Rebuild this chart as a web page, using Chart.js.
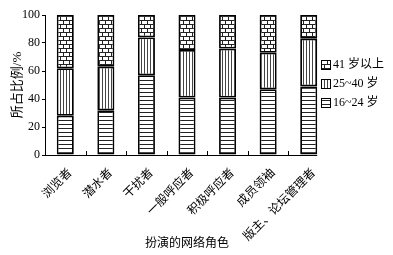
<!DOCTYPE html>
<html>
<head>
<meta charset="utf-8">
<script src="https://cdn.jsdelivr.net/npm/chart.js@4/dist/chart.umd.min.js"></script>
<style>
  html, body { margin: 0; padding: 0; background: #fff; }
  #wrap { width: 393px; height: 255px; }
</style>
</head>
<body>
<div id="wrap"><canvas id="grafico" width="393" height="255"></canvas></div>
<script>
const roles = ['浏览者', '潜水者', '干扰者', '一般呼应者', '积极呼应者', '成员领袖', '版主、论坛管理者'];
const age16to24 = [28, 32, 57, 41, 41, 47, 49];
const age25to40 = [34, 31, 27, 34, 35, 26, 34];
const age41plus = [38, 37, 16, 25, 24, 27, 17];
const yTicks = [0, 20, 40, 60, 80, 100];

const FONT = "'Liberation Serif', 'Noto Sans CJK SC', serif";

// patrones de relleno
function makePattern(w, h, draw) {
    const c = document.createElement('canvas');
    c.width = w; c.height = h;
    const g = c.getContext('2d');
    g.fillStyle = '#fff';
    g.fillRect(0, 0, w, h);
    g.fillStyle = '#222';
    draw(g);
    return g.createPattern(c, 'repeat');
}

const horizPattern = makePattern(4, 4, g => g.fillRect(0, 0, 4, 1));
const vertPattern = makePattern(3, 3, g => { g.fillStyle = '#444'; g.fillRect(0, 0, 1, 3); });
const brickPattern = makePattern(12, 8, g => {
    g.fillRect(0, 0, 12, 1);
    g.fillRect(0, 4, 12, 1);
    g.fillRect(0, 0, 1, 4);
    g.fillRect(6, 0, 1, 4);
    g.fillRect(3, 4, 1, 4);
    g.fillRect(9, 4, 1, 4);
});

const series = [
    { label: '16~24 岁', data: age16to24, fill: horizPattern },
    { label: '25~40 岁', data: age25to40, fill: vertPattern },
    { label: '41 岁以上', data: age41plus, fill: brickPattern }
];

// leyenda y marcas del eje x
const extras = {
    id: 'extras',
    afterDraw(chart) {
        const ctx = chart.ctx;
        const area = chart.chartArea;
        const xs = chart.scales.x;
        ctx.save();
        ctx.strokeStyle = '#000';
        ctx.lineWidth = 1;
        // eje x hasta la última barra
        const lastBar = chart.getDatasetMeta(0).data[roles.length - 1];
        const xEnd = lastBar.x + lastBar.width / 2;
        ctx.beginPath();
        ctx.moveTo(area.left, area.bottom + 0.5);
        ctx.lineTo(xEnd, area.bottom + 0.5);
        ctx.stroke();
        for (let i = 1; i < roles.length; i++) {
            const x = Math.round((xs.getPixelForTick(i - 1) + xs.getPixelForTick(i)) / 2) + 0.5;
            ctx.beginPath();
            ctx.moveTo(x, area.bottom);
            ctx.lineTo(x, area.bottom - 4);
            ctx.stroke();
        }
        // leyenda
        const items = series.slice().reverse();
        ctx.font = '12px ' + FONT;
        ctx.textBaseline = 'middle';
        ctx.fillStyle = '#000';
        items.forEach((s, i) => {
            const y = 60 + i * 19;
            ctx.fillStyle = s.fill;
            ctx.fillRect(321, y, 10, 10);
            ctx.lineWidth = 1;
            ctx.strokeRect(321.5, y + 0.5, 9, 9);
            ctx.fillStyle = '#000';
            ctx.fillText(s.label, 333, y + 5);
        });
        ctx.restore();
    }
};

const chart = new Chart(document.getElementById('grafico'), {
    type: 'bar',
    data: {
        labels: roles,
        datasets: series.map(s => ({
            label: s.label,
            data: s.data,
            backgroundColor: s.fill,
            borderColor: '#000',
            borderWidth: 1.8,
            borderSkipped: false,
            barPercentage: 0.42,
            categoryPercentage: 1
        }))
    },
    options: {
        responsive: false,
        animation: false,
        devicePixelRatio: 1,
        layout: { padding: { top: 15, right: 64, left: 0, bottom: 0 } },
        plugins: { legend: { display: false }, tooltip: { enabled: false } },
        scales: {
            x: {
                stacked: true,
                afterFit(scale) { scale.height = 100; },
                grid: { display: false },
                border: { display: false },
                ticks: {
                    color: '#000',
                    font: { family: FONT, size: 12 },
                    maxRotation: 45,
                    minRotation: 45,
                    padding: 3,
                    labelOffset: 5
                },
                title: {
                    display: true,
                    text: '扮演的网络角色',
                    color: '#000',
                    font: { family: FONT, size: 12 },
                    padding: { top: 4, bottom: 4 }
                }
            },
            y: {
                stacked: true,
                min: 0,
                max: 100,
                afterFit(scale) { scale.width = 45; },
                afterBuildTicks(scale) { scale.ticks = yTicks.map(v => ({ value: v })); },
                grid: { drawOnChartArea: false, tickLength: 3, color: '#000' },
                border: { display: true, color: '#000', width: 1 },
                ticks: {
                    color: '#000',
                    font: { family: FONT, size: 12 },
                    padding: 2
                },
                title: {
                    display: true,
                    text: '所占比例/%',
                    color: '#000',
                    font: { family: FONT, size: 13 },
                    padding: { top: 10, bottom: 4 }
                }
            }
        }
    },
    plugins: [extras]
});
</script>
</body>
</html>
